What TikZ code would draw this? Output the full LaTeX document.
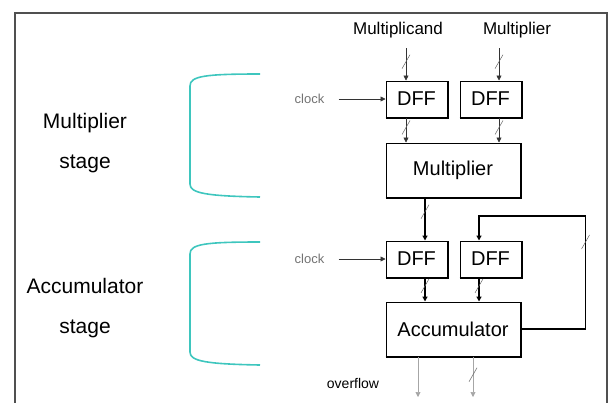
\documentclass[tikz,border=0pt]{standalone}
\usepackage{fontspec}
\setmainfont{Liberation Sans}
\usepackage{xcolor}
\usetikzlibrary{positioning, arrows.meta}

\definecolor{stageteal}{RGB}{62,198,190}
\definecolor{framegray}{RGB}{80,80,80}

\begin{document}
\begin{tikzpicture}[
    x=1pt, y=-1pt,
    every node/.style={font=\fontsize{17}{20}\selectfont},
    reg/.style={
        rectangle,
        draw,
        line width=1pt,
        minimum width=61pt,
        minimum height=36pt,
        inner sep=0pt,
        font=\fontsize{20}{22}\selectfont
    },
    unit/.style={
        rectangle,
        draw,
        line width=1pt,
        minimum width=134pt,
        minimum height=54pt,
        inner sep=0pt,
        font=\fontsize{20}{22}\selectfont
    },
    wire/.style={
        -{Triangle[length=5pt,width=5pt]},
        line width=0.6pt,
        black!80
    },
    bus/.style={
        -{Triangle[length=5pt,width=5pt]},
        line width=1.6pt
    },
    slash/.style={line width=0.5pt, black!60},
    clocktxt/.style={inner sep=0pt, text=black!55, font=\fontsize{13}{15}\selectfont},
    side/.style={align=center, font=\fontsize{21}{40}\selectfont},
    stage/.style={stageteal, line width=1.6pt}
]
\useasboundingbox (0,0) rectangle (609,402);

% frame
\draw[framegray, line width=1.3pt] (15,13) rectangle (607,420);

% Blocs
\node[reg] (dffa) at (416.5,99) {DFF};
\node[reg, right=12pt of dffa] (dffb) {DFF};
\node[unit] (mult) at (453,170) {Multiplier};

\node[reg] (dffc) at (416.5,259) {DFF};
\node[reg, right=12pt of dffc] (dffd) {DFF};
\node[unit] (acc) at (453,329) {Accumulator};

% heavier right and bottom edges
\foreach \n in {dffa,dffb,mult,dffc,dffd,acc}
    \draw[line width=2pt] (\n.south west) -| (\n.north east);

% labels
\node (mcand) at (398,30) {Multiplicand};
\node (mplier) at (517,30) {Multiplier};
\node[clocktxt, left=61pt of dffa] (clka) {clock};
\node[clocktxt, left=61pt of dffc] (clkc) {clock};
\node[font=\fontsize{14}{16}\selectfont] (ovf) at (353,383) {overflow};

\node[side] (mstage) at (85,143) {Multiplier\\stage};
\node[side] (astage) at (85,308) {Accumulator\\stage};

\coordinate (ina) at (406,48);
\coordinate (inb) at (499,48);
\coordinate (outa) at (418,397);
\coordinate (outb) at (473,397);

% inputs
\draw[wire] (ina) -- coordinate[pos=.42] (s1) (dffa.north -| ina);
\draw[wire] (inb) -- coordinate[pos=.42] (s2) (dffb.north -| inb);

% clocks
\draw[wire, shorten <=14pt] (clka) -- (dffa);
\draw[wire, shorten <=14pt] (clkc) -- (dffc);

% DFF -> Multiplier
\draw[wire] (dffa.south -| ina) -- coordinate[pos=.4] (s3) (mult.north -| ina);
\draw[wire] (dffb.south -| inb) -- coordinate[pos=.4] (s4) (mult.north -| inb);

% Multiplier -> DFF
\draw[bus] ([xshift=8.5pt]mult.south -| dffc.north) -- coordinate[pos=.33] (s5) ([xshift=8.5pt]dffc.north);

% DFF -> Accumulator
\draw[bus] ([xshift=8.5pt]dffc.south) -- coordinate[pos=.35] (s6) ([xshift=8.5pt]dffc.south |- acc.north);
\draw[bus] ([xshift=-11.5pt]dffd.south) -- coordinate[pos=.35] (s7) ([xshift=-11.5pt]dffd.south |- acc.north);

% Accumulator -> DFF : feedback
\draw[bus, line width=1.4pt]
    (acc.east)
    -- ++(65,0)
    -- coordinate[pos=.77] (s8) ++(0,-113)
    -| ([xshift=-11.5pt]dffd.north);

% outputs
\draw[wire, draw=black!35] (acc.south -| outa) -- (outa);
\draw[wire, draw=black!35] (acc.south -| outb) -- coordinate[pos=.45] (s9) (outb);

% bus marks
\foreach \s in {s1,s2,s3,s4,s5,s6,s7,s8,s9}
    \draw[slash] (\s) ++(-4,7) -- ++(8,-14);

% stage brackets
\draw[stage] (260,74) .. controls (205,74) and (190,76) .. (190,86)
    -- (190,184) .. controls (190,193) and (205,196) .. (260,197);
\draw[stage] (260,242) .. controls (205,242) and (190,244) .. (190,254)
    -- (190,352) .. controls (190,361) and (205,364) .. (260,365);

\end{tikzpicture}
\end{document}
